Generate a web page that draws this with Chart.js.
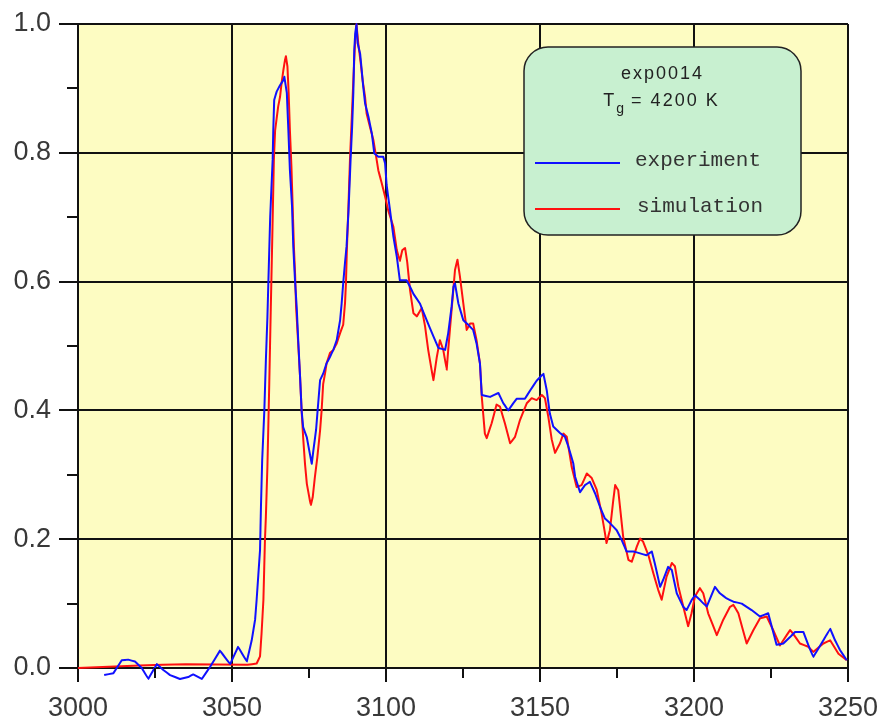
<!DOCTYPE html>
<html>
<head>
<meta charset="utf-8">
<script src="https://cdn.jsdelivr.net/npm/chart.js@4.4.1/dist/chart.umd.min.js"></script>
<style>
  html, body { margin: 0; padding: 0; background: #fff; }
  #wrap { width: 883px; height: 725px; }
</style>
</head>
<body>
<div id="wrap"><canvas id="spectrum"></canvas></div>
<script>
// experiment (blue)
const expX = [3008.5, 3011.5, 3014.2, 3016.3, 3018.5, 3020.7, 3022.8, 3025.6, 3027.7, 3029.9,
  3033.1, 3035.8, 3037.4, 3040.2, 3042.9, 3046.1, 3049.4, 3052.0, 3054.8, 3056.4,
  3057.5, 3058.0, 3059.1, 3059.4, 3059.8, 3060.5, 3061.0, 3061.5, 3061.8, 3062.1,
  3062.4, 3062.8, 3063.2, 3063.4, 3063.7, 3064.5, 3065.6, 3066.7, 3067.0, 3067.8,
  3068.3, 3068.8, 3069.5, 3069.9, 3070.5, 3071.0, 3071.5, 3072.1, 3072.6, 3073.1,
  3074.3, 3075.3, 3075.9, 3076.4, 3077.3, 3077.8, 3078.6, 3079.6, 3080.7, 3081.8,
  3082.9, 3084.0, 3085.1, 3085.6, 3086.1, 3086.7, 3087.2, 3087.8, 3088.5, 3089.0,
  3089.4, 3089.7, 3090.0, 3090.4, 3090.8, 3091.6, 3092.1, 3092.6, 3093.2, 3094.3,
  3095.4, 3096.2, 3097.5, 3099.1, 3099.7, 3100.2, 3101.3, 3102.4, 3103.5, 3104.5,
  3106.7, 3107.8, 3108.9, 3111.0, 3113.2, 3115.4, 3117.0, 3119.2, 3120.2, 3121.3,
  3121.9, 3122.4, 3123.5, 3125.1, 3126.7, 3128.3, 3129.4, 3130.5, 3131.1, 3133.8,
  3136.5, 3138.1, 3139.7, 3141.3, 3142.4, 3145.1, 3146.8, 3148.9, 3151.1, 3152.2,
  3153.2, 3154.3, 3156.5, 3158.1, 3159.2, 3160.8, 3161.4, 3163.0, 3164.6, 3166.2,
  3167.9, 3169.5, 3171.1, 3172.7, 3174.9, 3176.5, 3178.1, 3180.3, 3182.5, 3184.6,
  3186.3, 3187.3, 3189.0, 3190.0, 3191.6, 3192.8, 3194.4, 3196.5, 3197.6, 3199.3,
  3200.3, 3201.9, 3204.1, 3206.8, 3208.4, 3210.6, 3212.8, 3215.5, 3218.7, 3221.4,
  3224.1, 3226.8, 3229.0, 3231.2, 3232.8, 3235.5, 3237.1, 3238.7, 3242.0, 3244.2,
  3245.8, 3247.4, 3249.6];
const expY = [-0.011, -0.008, 0.012, 0.013, 0.010, 0.000, -0.017, 0.006, -0.003, -0.011,
  -0.017, -0.014, -0.010, -0.017, 0.002, 0.027, 0.006, 0.033, 0.010, 0.043,
  0.075, 0.106, 0.183, 0.250, 0.323, 0.400, 0.478, 0.545, 0.598, 0.649,
  0.700, 0.745, 0.789, 0.835, 0.882, 0.895, 0.905, 0.913, 0.918, 0.893,
  0.835, 0.773, 0.716, 0.654, 0.598, 0.561, 0.509, 0.452, 0.400, 0.374,
  0.358, 0.332, 0.317, 0.337, 0.370, 0.400, 0.447, 0.457, 0.473, 0.483,
  0.494, 0.509, 0.540, 0.566, 0.597, 0.630, 0.655, 0.707, 0.789, 0.840,
  0.894, 0.960, 0.985, 1.000, 0.970, 0.954, 0.929, 0.903, 0.877, 0.856,
  0.830, 0.799, 0.794, 0.794, 0.784, 0.750, 0.711, 0.670, 0.639, 0.602,
  0.602, 0.592, 0.581, 0.566, 0.540, 0.515, 0.497, 0.494, 0.520, 0.561,
  0.592, 0.597, 0.566, 0.540, 0.533, 0.525, 0.504, 0.473, 0.424, 0.421,
  0.427, 0.411, 0.400, 0.411, 0.418, 0.418, 0.431, 0.446, 0.457, 0.431,
  0.395, 0.375, 0.365, 0.359, 0.344, 0.318, 0.297, 0.273, 0.284, 0.289,
  0.271, 0.250, 0.232, 0.225, 0.214, 0.199, 0.181, 0.181, 0.178, 0.175,
  0.181, 0.162, 0.126, 0.137, 0.157, 0.152, 0.116, 0.095, 0.090, 0.106,
  0.113, 0.106, 0.095, 0.126, 0.116, 0.108, 0.103, 0.100, 0.090, 0.080,
  0.085, 0.036, 0.038, 0.048, 0.056, 0.056, 0.036, 0.017, 0.043, 0.061,
  0.043, 0.028, 0.012];

// simulation (red)
const simX = [3000.0, 3020.0, 3035.0, 3055.0, 3058.0, 3059.1, 3059.6, 3060.2, 3060.7, 3061.0,
  3061.5, 3062.1, 3062.6, 3063.0, 3063.3, 3063.6, 3064.0, 3065.0, 3065.6, 3066.1,
  3066.7, 3067.2, 3067.5, 3068.0, 3068.4, 3068.8, 3069.3, 3069.7, 3070.1, 3070.5,
  3070.8, 3071.3, 3072.1, 3072.6, 3073.1, 3073.7, 3074.3, 3075.1, 3075.6, 3076.2,
  3076.9, 3077.7, 3078.6, 3079.1, 3079.6, 3080.2, 3080.7, 3081.8, 3082.9, 3084.0,
  3085.1, 3086.1, 3086.7, 3087.0, 3087.3, 3087.8, 3088.3, 3088.9, 3089.4, 3089.9,
  3090.4, 3091.0, 3091.8, 3092.4, 3093.2, 3093.7, 3094.8, 3095.9, 3096.8, 3097.5,
  3098.6, 3099.7, 3100.7, 3102.4, 3103.5, 3104.5, 3105.3, 3106.2, 3106.9, 3107.8,
  3108.9, 3110.0, 3111.6, 3112.7, 3113.7, 3114.8, 3115.4, 3116.5, 3117.5, 3118.6,
  3119.7, 3120.2, 3121.3, 3122.4, 3123.2, 3124.0, 3125.1, 3126.2, 3127.3, 3128.3,
  3129.4, 3130.5, 3131.1, 3132.1, 3132.7, 3134.3, 3135.9, 3137.0, 3138.6, 3140.3,
  3141.9, 3143.5, 3145.7, 3147.3, 3148.9, 3150.6, 3151.6, 3152.7, 3153.8, 3154.9,
  3156.5, 3157.6, 3158.7, 3160.3, 3161.9, 3163.5, 3165.2, 3166.8, 3168.4, 3170.0,
  3171.1, 3171.6, 3172.7, 3173.8, 3174.4, 3175.4, 3176.2, 3177.0, 3178.7, 3179.8,
  3181.4, 3182.5, 3183.5, 3185.2, 3186.8, 3188.4, 3189.5, 3191.1, 3192.8, 3193.8,
  3194.9, 3196.5, 3198.1, 3199.2, 3200.3, 3201.9, 3203.0, 3204.6, 3207.4, 3209.5,
  3211.7, 3212.8, 3214.4, 3217.1, 3219.3, 3221.4, 3223.6, 3225.7, 3227.9, 3230.1,
  3231.2, 3232.2, 3234.4, 3237.1, 3238.7, 3242.0, 3244.2, 3246.9, 3249.6];
const simY = [0.000, 0.004, 0.006, 0.005, 0.007, 0.018, 0.054, 0.106, 0.199, 0.235,
  0.313, 0.442, 0.560, 0.650, 0.720, 0.790, 0.835, 0.872, 0.887, 0.908,
  0.929, 0.944, 0.950, 0.934, 0.892, 0.835, 0.778, 0.716, 0.654, 0.610,
  0.561, 0.520, 0.452, 0.400, 0.358, 0.317, 0.286, 0.265, 0.253, 0.265,
  0.296, 0.327, 0.369, 0.400, 0.441, 0.457, 0.473, 0.489, 0.494, 0.504,
  0.520, 0.533, 0.567, 0.598, 0.650, 0.716, 0.789, 0.856, 0.913, 0.965,
  1.000, 0.970, 0.939, 0.913, 0.887, 0.861, 0.840, 0.820, 0.794, 0.773,
  0.753, 0.732, 0.711, 0.685, 0.649, 0.632, 0.649, 0.652, 0.630, 0.587,
  0.551, 0.546, 0.559, 0.530, 0.494, 0.463, 0.447, 0.483, 0.509, 0.494,
  0.463, 0.494, 0.556, 0.618, 0.634, 0.608, 0.566, 0.525, 0.535, 0.535,
  0.509, 0.473, 0.421, 0.364, 0.357, 0.380, 0.409, 0.406, 0.380, 0.349,
  0.359, 0.385, 0.411, 0.419, 0.416, 0.424, 0.419, 0.390, 0.355, 0.334,
  0.349, 0.364, 0.359, 0.312, 0.281, 0.284, 0.302, 0.295, 0.277, 0.240,
  0.209, 0.194, 0.214, 0.261, 0.284, 0.276, 0.240, 0.204, 0.168, 0.165,
  0.188, 0.201, 0.196, 0.175, 0.147, 0.121, 0.106, 0.142, 0.163, 0.158,
  0.127, 0.096, 0.065, 0.085, 0.111, 0.124, 0.116, 0.085, 0.051, 0.075,
  0.095, 0.098, 0.085, 0.038, 0.059, 0.077, 0.080, 0.059, 0.035, 0.051,
  0.059, 0.053, 0.038, 0.033, 0.025, 0.038, 0.043, 0.022, 0.012];

const xMinor = [3025, 3075, 3125, 3175, 3225];
const yMinor = [0.1, 0.3, 0.5, 0.7, 0.9];

const toPoints = (xs, ys) => xs.map((x, i) => ({ x: x, y: ys[i] }));

const tickFont = { family: "'Liberation Sans', Arial, sans-serif", size: 27 };

// yellow plot area
const plotBg = {
  id: 'plotBg',
  beforeDraw(chart) {
    const a = chart.chartArea;
    const ctx = chart.ctx;
    ctx.save();
    ctx.fillStyle = '#fdfcc2';
    ctx.fillRect(a.left, a.top, a.right - a.left, a.bottom - a.top);
    ctx.restore();
  }
};

// short minor ticks outside the axes
const minorTicks = {
  id: 'minorTicks',
  afterDraw(chart) {
    const ctx = chart.ctx;
    const xs = chart.scales.x, ys = chart.scales.y;
    ctx.save();
    ctx.strokeStyle = '#111';
    ctx.lineWidth = 2;
    ctx.beginPath();
    xMinor.forEach(v => {
      const px = Math.round(xs.getPixelForValue(v));
      ctx.moveTo(px, ys.bottom);
      ctx.lineTo(px, ys.bottom + 10);
    });
    yMinor.forEach(v => {
      const py = Math.round(ys.getPixelForValue(v));
      ctx.moveTo(xs.left, py);
      ctx.lineTo(xs.left - 11, py);
    });
    ctx.stroke();
    ctx.restore();
  }
};

// green rounded info / legend box
const infoBox = {
  id: 'infoBox',
  afterDraw(chart) {
    const ctx = chart.ctx;
    const bx = 524, by = 47, bw = 277, bh = 188;
    const cx = bx + bw / 2;
    ctx.save();
    ctx.beginPath();
    ctx.roundRect(bx, by, bw, bh, 24);
    ctx.fillStyle = '#c8f0d0';
    ctx.fill();
    ctx.lineWidth = 1.5;
    ctx.strokeStyle = '#222';
    ctx.stroke();

    ctx.fillStyle = '#222';
    ctx.textBaseline = 'middle';
    ctx.letterSpacing = '2px';
    ctx.font = "18px 'Liberation Sans', Arial, sans-serif";
    ctx.textAlign = 'center';
    ctx.fillText('exp0014', cx, by + 27);

    // T_g = 4200 K
    ctx.textAlign = 'left';
    const big = "18px 'Liberation Sans', Arial, sans-serif";
    const small = "14px 'Liberation Sans', Arial, sans-serif";
    ctx.font = big;
    const wT = ctx.measureText('T').width;
    const wRest = ctx.measureText(' = 4200 K').width;
    ctx.font = small;
    const wg = ctx.measureText('g').width;
    let x0 = cx - (wT + wg + wRest) / 2;
    const ty = by + 54;
    ctx.font = big;
    ctx.fillText('T', x0, ty);
    ctx.font = small;
    ctx.fillText('g', x0 + wT, ty + 8);
    ctx.font = big;
    ctx.fillText(' = 4200 K', x0 + wT + wg - 2, ty);

    // legend entries
    ctx.letterSpacing = '0px';
    ctx.font = "21px 'Liberation Mono', 'Courier New', monospace";
    const rows = [by + 115, by + 161];
    chart.data.datasets.forEach((ds, i) => {
      const y = rows[i];
      ctx.strokeStyle = ds.borderColor;
      ctx.lineWidth = 2;
      ctx.beginPath();
      ctx.moveTo(bx + 11, y + 1);
      ctx.lineTo(bx + 96, y + 1);
      ctx.stroke();
      ctx.fillStyle = '#333';
      ctx.fillText(ds.label, bx + 111 + i * 2, y - 2);
    });
    ctx.restore();
  }
};

new Chart(document.getElementById('spectrum'), {
  type: 'line',
  data: {
    datasets: [{
      label: 'experiment',
      data: toPoints(expX, expY),
      borderColor: '#1010ff',
      borderWidth: 2,
      borderJoinStyle: 'round',
      pointRadius: 0,
      tension: 0.0001, // avoids the per-pixel fast path nubs on steep edges
      clip: 20
    }, {
      label: 'simulation',
      data: toPoints(simX, simY),
      borderColor: '#ff1010',
      borderWidth: 2,
      borderJoinStyle: 'round',
      pointRadius: 0,
      tension: 0.0001,
      clip: 20
    }]
  },
  options: {
    responsive: true,
    maintainAspectRatio: false,
    animation: false,
    layout: { padding: { top: 24, right: 35, left: 0, bottom: 0 } },
    plugins: {
      legend: { display: false },
      tooltip: { enabled: false }
    },
    scales: {
      x: {
        type: 'linear',
        min: 3000,
        max: 3250,
        afterFit: s => {
          s.height = 57;
          s.paddingLeft = 0;
          s.paddingRight = 0;
        },
        ticks: {
          stepSize: 50,
          maxRotation: 0,
          padding: 10,
          color: '#383838',
          font: tickFont,
          callback: v => String(v)
        },
        grid: { color: '#111', lineWidth: 2, tickLength: 14, tickColor: '#111' },
        border: { color: '#111', width: 2 }
      },
      y: {
        min: 0,
        max: 1,
        afterFit: s => {
          s.width = 78;
          s.paddingTop = 0;
          s.paddingBottom = 0;
        },
        ticks: {
          stepSize: 0.2,
          padding: 8,
          color: '#383838',
          font: tickFont,
          callback: v => v.toFixed(1)
        },
        grid: { color: '#111', lineWidth: 2, tickLength: 19, tickColor: '#111' },
        border: { color: '#111', width: 2 }
      }
    }
  },
  plugins: [plotBg, minorTicks, infoBox]
});
</script>
</body>
</html>
